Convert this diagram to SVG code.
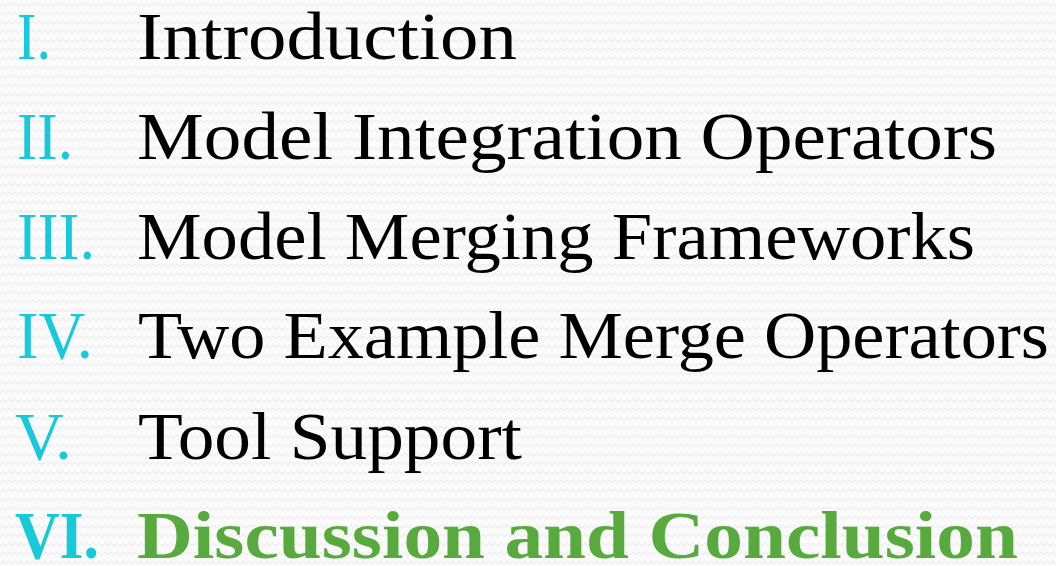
<svg xmlns="http://www.w3.org/2000/svg" width="1056" height="566" viewBox="0 0 1056 566">
<defs>
<pattern id="zz" width="12" height="9" patternUnits="userSpaceOnUse">
<rect width="12" height="9" fill="#fbfbfb"/>
<path d="M0 6 L3 3 L6 6 L9 3 L12 6" fill="none" stroke="#eeeeee" stroke-width="1.2"/>
</pattern>
</defs>
<style>
.num{font-family:"Liberation Serif","DejaVu Serif",serif;font-size:68px;fill:#17C9D9}
.item{font-family:"Liberation Serif","DejaVu Serif",serif;font-size:68px;fill:#000000}
.cur{font-weight:bold;fill:#58A93E}
.numb{font-weight:bold}
</style>
<rect width="1056" height="566" fill="url(#zz)"/>
<g id="item1">
<text class="num" x="17" y="59" textLength="34" lengthAdjust="spacingAndGlyphs">I.</text>
<text class="item" x="137" y="59" textLength="380" lengthAdjust="spacingAndGlyphs">Introduction</text>
</g>
<g id="item2">
<text class="num" x="17" y="159" textLength="56" lengthAdjust="spacingAndGlyphs">II.</text>
<text class="item" x="137" y="159" textLength="860" lengthAdjust="spacingAndGlyphs">Model Integration Operators</text>
</g>
<g id="item3">
<text class="num" x="17" y="259" textLength="78" lengthAdjust="spacingAndGlyphs">III.</text>
<text class="item" x="137" y="259" textLength="838" lengthAdjust="spacingAndGlyphs">Model Merging Frameworks</text>
</g>
<g id="item4">
<text class="num" x="17" y="358" textLength="76" lengthAdjust="spacingAndGlyphs">IV.</text>
<text class="item" x="138" y="358" textLength="911" lengthAdjust="spacingAndGlyphs">Two Example Merge Operators</text>
</g>
<g id="item5">
<text class="num" x="15" y="459" textLength="57" lengthAdjust="spacingAndGlyphs">V.</text>
<text class="item" x="138" y="459" textLength="384" lengthAdjust="spacingAndGlyphs">Tool Support</text>
</g>
<g id="item6">
<text class="num numb" x="15" y="558" textLength="84" lengthAdjust="spacingAndGlyphs">VI.</text>
<text class="item cur" x="137" y="558" textLength="881" lengthAdjust="spacingAndGlyphs">Discussion and Conclusion</text>
</g>
</svg>
